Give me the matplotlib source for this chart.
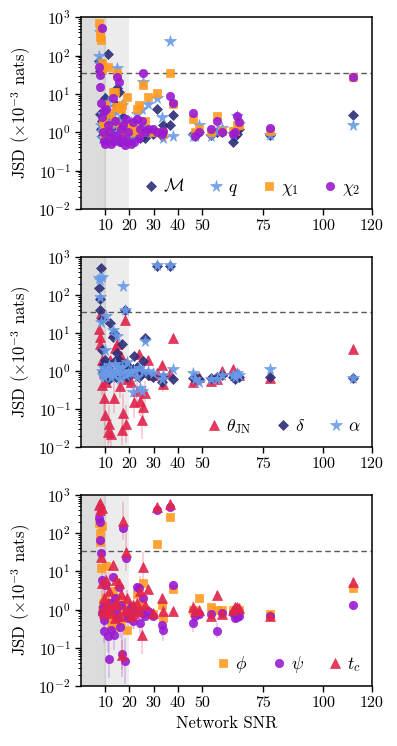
import numpy as np
import matplotlib
matplotlib.use("Agg")
import matplotlib.pyplot as plt

plt.rcParams['font.family'] = 'serif'
plt.rcParams['font.serif'] = ['cmr10']
plt.rcParams['mathtext.fontset'] = 'cm'
plt.rcParams['axes.formatter.use_mathtext'] = True
plt.rcParams['font.size'] = 11.5

snr = [7.5, 7.8, 8.0, 8.2, 8.5, 8.8, 9.0, 9.3, 9.6, 10.0,
       10.5, 11.0, 11.5, 12.0, 12.5, 13.0, 13.5, 14.0, 14.5, 15.0,
       15.5, 16.0, 16.5, 17.0, 17.5, 18.0, 18.5, 19.0, 19.5, 20.5,
       21.5, 22.0, 23.0, 24.0, 24.5, 25.0, 25.5, 26.5, 27.5, 29.5,
       31.5, 33.5, 34.0, 36.5, 38.0, 46.0, 47.0, 48.5, 53.5, 56.0,
       58.0, 62.5, 63.5, 64.5, 65.0, 78.0, 112.0]

# Panel 1
jsd_mc = [70, 40, 3.0, 1.2, 2.0, 0.8, 1.5, 0.9, 0.7, 7.8,
          1.0, 110, 2.5, 0.7, 1.5, 2.2, 0.9, 1.3, 5.0, 14,
          11, 0.6, 1.8, 0.8, 2.5, 1.0, 0.6, 1.3, 0.9, 1.5,
          0.7, 1.2, 0.9, 1.0, 0.7, 1.3, 0.8, 0.7, 1.0, 0.9,
          4.0, 0.8, 1.5, 1.5, 2.8, 0.9, 0.8, 1.0, 0.85, 1.0,
          1.0, 0.56, 0.8, 0.9, 1.2, 0.85, 2.8]
jsd_q = [100, 400, 60, 1.5, 1.0, 0.7, 3.0, 1.2, 0.9, 2.0,
         0.8, 6.0, 1.4, 0.6, 1.0, 3.0, 0.8, 1.5, 3.5, 47,
         2.0, 0.9, 1.2, 5.0, 1.5, 0.7, 1.0, 1.2, 0.6, 1.8,
         0.8, 1.0, 3.0, 1.3, 0.9, 4.0, 20, 1.0, 5.5, 1.0,
         8.0, 2.5, 0.7, 240, 0.8, 0.8, 0.8, 1.5, 0.8, 1.1,
         1.3, 0.9, 1.2, 2.6, 1.6, 0.85, 1.55]
jsd_chi1 = [700, 460, 300, 250, 63, 42, 2.0, 0.9, 1.5, 5.0,
            1.2, 50, 0.8, 3.0, 0.6, 11, 1.8, 11, 4.5, 35,
            4.5, 1.5, 4.0, 5.0, 0.9, 1.5, 1.0, 8.5, 1.2, 1.5,
            1.0, 1.3, 4.0, 5.0, 1.0, 1.0, 17, 2.0, 8.3, 1.0,
            10.5, 1.0, 0.9, 34, 5.5, 2.2, 1.0, 1.2, 1.0, 2.6,
            1.1, 1.1, 1.1, 1.5, 1.5, 1.05, 27.5]
jsd_chi2 = [50, 31, 15, 5.8, 520, 2.5, 1.0, 0.6, 3.5, 0.5,
            4.0, 1.5, 0.7, 1.0, 0.5, 8, 0.6, 2.0, 0.8, 28,
            20, 0.55, 1.2, 0.7, 1.5, 0.45, 2.2, 0.6, 1.0, 0.5,
            1.8, 0.55, 2.2, 0.7, 1.2, 2.0, 34, 1.0, 1.2, 1.2,
            1.0, 0.9, 1.1, 8.7, 5.8, 3.2, 0.8, 1.0, 1.2, 2.0,
            1.0, 0.9, 1.0, 2.6, 1.9, 1.3, 27.5]

# Panel 2
jsd_theta = [13, 8, 5, 34, 2.0, 0.44, 1.2, 0.2, 0.9, 0.07,
             0.5, 0.025, 0.04, 2.0, 0.022, 10, 0.2, 4.0, 0.9, 5,
             1.3, 0.4, 2.5, 0.028, 0.08, 22, 0.04, 0.6, 1.0, 0.5,
             0.9, 0.15, 0.3, 2.8, 0.16, 0.05, 0.11, 0.27, 2.0, 0.8,
             0.9, 1.4, 0.45, 0.9, 7.5, 0.5, 0.6, 0.7, 0.55, 0.6,
             1.0, 1.1, 0.8, 0.9, 0.8, 0.65, 3.8]
jsd_delta = [150, 40, 80, 500, 23, 3.5, 1.0, 0.8, 1.5, 2.0,
             0.7, 1.2, 0.6, 18, 1.0, 8, 10, 1.8, 0.7, 3.0,
             2.0, 0.9, 1.2, 5.0, 0.8, 40, 1.5, 0.7, 1.3, 0.9,
             1.1, 2.5, 1.3, 0.7, 1.0, 0.9, 1.8, 7.4, 0.8, 0.7,
             580, 0.5, 0.7, 580, 0.6, 0.65, 0.7, 0.6, 0.65, 0.7,
             0.8, 0.7, 0.6, 0.8, 0.7, 0.7, 0.65]
jsd_alpha = [280, 250, 90, 20, 300, 1.0, 0.8, 1.2, 0.7, 3.5,
             28, 0.9, 1.4, 1.0, 0.7, 12, 0.8, 1.5, 1.0, 8.5,
             1.2, 0.6, 0.9, 1.3, 175, 40, 0.8, 1.7, 0.9, 1.0,
             0.28, 1.0, 0.7, 1.2, 0.35, 0.3, 1.0, 6.0, 1.0, 0.9,
             600, 0.6, 0.8, 600, 1.1, 0.9, 0.6, 0.5, 0.6, 0.6,
             0.8, 0.8, 0.7, 0.9, 0.8, 1.1, 0.65]

# Panel 3
jsd_phi = [185, 100, 60, 12, 150, 1.0, 1.5, 0.7, 1.2, 2.0,
           14, 0.8, 1.0, 0.6, 0.4, 3, 1.2, 0.35, 2.0, 0.8,
           1.5, 0.9, 0.5, 1.1, 1.8, 0.7, 1.3, 0.29, 1.0, 0.8,
           1.2, 1.0, 2.5, 1.3, 0.9, 1.5, 5, 1.0, 0.8, 0.75,
           52, 1.3, 0.6, 260, 3.5, 1.0, 0.8, 2.0, 1.2, 1.0,
           1.0, 1.0, 0.9, 0.8, 1.0, 0.75, 3.7]
jsd_psi = [250, 200, 65, 30, 6, 0.8, 1.2, 0.55, 0.27, 4.5,
           0.9, 0.2, 0.052, 1.5, 0.3, 7, 0.22, 2.0, 1.0, 0.6,
           4.0, 0.35, 1.3, 0.07, 140, 0.045, 22, 0.8, 0.6, 1.2,
           0.5, 0.9, 4.0, 3.7, 0.45, 0.8, 2.0, 0.7, 0.9, 0.7,
           400, 0.4, 0.3, 480, 4.5, 0.45, 0.7, 0.75, 0.75, 0.28,
           0.8, 0.8, 0.6, 0.65, 0.7, 0.7, 1.3]
jsd_tc = [550, 400, 600, 24, 450, 5, 1.0, 2.0, 0.8, 1.2,
          6, 1.5, 3.0, 1.0, 0.8, 15, 1.3, 0.6, 6, 1.5,
          5, 0.7, 2.5, 0.065, 210, 1.0, 32, 2.0, 0.9, 0.7,
          1.3, 0.8, 1.5, 0.9, 3.0, 0.22, 13, 1.3, 3.5, 0.8,
          480, 2.0, 0.9, 580, 0.9, 1.2, 0.9, 0.95, 0.7, 2.4,
          0.75, 1.0, 1.2, 1.2, 1.1, 0.7, 5.2]

# uncertainties (dex)
err_dex = [0.1, 0.1, 0.1, 0.1, 0.1, 0.1, 0.12, 0.12, 0.12, 0.12,
           0.12, 0.12, 0.12, 0.12, 0.12, 0.1, 0.1, 0.1, 0.1, 0.1,
           0.1, 0.1, 0.1, 0.1, 0.1, 0.1, 0.1, 0.1, 0.1, 0.08,
           0.08, 0.08, 0.08, 0.08, 0.08, 0.08, 0.08, 0.08, 0.08, 0.08,
           0.05, 0.08, 0.08, 0.05, 0.08, 0.08, 0.08, 0.08, 0.08, 0.08,
           0.08, 0.08, 0.08, 0.08, 0.08, 0.08, 0.08]
err_theta = [0.1, 0.1, 0.1, 0.1, 0.1, 0.3, 0.1, 0.4, 0.1, 0.5,
             0.2, 0.4, 0.5, 0.1, 0.4, 0.1, 0.4, 0.1, 0.1, 0.1,
             0.1, 0.3, 0.1, 0.4, 0.5, 0.1, 0.5, 0.2, 0.1, 0.2,
             0.1, 0.4, 0.3, 0.1, 0.4, 0.5, 0.4, 0.3, 0.1, 0.1,
             0.1, 0.1, 0.2, 0.1, 0.1, 0.15, 0.1, 0.1, 0.1, 0.1,
             0.1, 0.1, 0.1, 0.1, 0.1, 0.1, 0.1]
err_psi = [0.1, 0.1, 0.1, 0.1, 0.1, 0.1, 0.1, 0.2, 0.3, 0.1,
           0.1, 0.4, 0.5, 0.1, 0.3, 0.1, 0.4, 0.1, 0.1, 0.2,
           0.1, 0.3, 0.1, 0.6, 0.1, 0.6, 0.1, 0.2, 0.2, 0.1,
           0.2, 0.1, 0.1, 0.1, 0.3, 0.1, 0.1, 0.1, 0.1, 0.1,
           0.1, 0.3, 0.3, 0.1, 0.1, 0.25, 0.1, 0.1, 0.1, 0.2,
           0.1, 0.1, 0.1, 0.1, 0.1, 0.1, 0.1]

xticks = [10, 20, 30, 40, 50, 75, 100, 120]
threshold = 34.7

c_navy = '#2d2f78'
c_blue = '#6a9be8'
c_orange = '#ff9a20'
c_purple = '#9a1bd2'
c_red = '#e1244c'

panels = [
    [(jsd_mc, err_dex, 'D', c_navy, 5.2, r'$\mathcal{M}$'),
     (jsd_q, err_dex, '*', c_blue, 8.5, r'$q$'),
     (jsd_chi1, err_dex, 's', c_orange, 5.6, r'$\chi_1$'),
     (jsd_chi2, err_dex, 'o', c_purple, 6.0, r'$\chi_2$')],
    [(jsd_theta, err_theta, '^', c_red, 6.6, r'$\theta_{\rm JN}$'),
     (jsd_delta, err_dex, 'D', c_navy, 5.2, r'$\delta$'),
     (jsd_alpha, err_dex, '*', c_blue, 8.5, r'$\alpha$')],
    [(jsd_phi, err_dex, 's', c_orange, 5.6, r'$\phi$'),
     (jsd_psi, err_psi, 'o', c_purple, 6.0, r'$\psi$'),
     (jsd_tc, err_theta, '^', c_red, 6.6, r'$t_c$')],
]

fig = plt.figure(figsize=(3.97, 7.46), dpi=100)
boxes = [(0.977, 0.720), (0.6555, 0.4008), (0.3365, 0.0804)]
left, right = 0.204, 0.937
x = np.array(snr)
for (top, bot), series in zip(boxes, panels):
    ax = fig.add_axes([left, bot, right - left, top - bot])
    ax.axvspan(0, 20, color='#ececec', zorder=0, lw=0)
    ax.axvspan(0, 9.6, color='#dcdcdc', zorder=0.1, lw=0)
    ax.axvline(10.0, color='#d2d2d2', lw=1.6, zorder=0.2)
    ax.axhline(threshold, color='0.35', ls=(0, (4, 2.5)), lw=1.0, zorder=1)
    for vals, err, mk, col, ms, lab in series:
        y = np.array(vals, dtype=float)
        e = np.array(err, dtype=float)
        lo = y - y * 10 ** (-e)
        hi = y * 10 ** e - y
        ax.errorbar(x, y, yerr=[lo, hi], fmt='none', ecolor=col, alpha=0.25,
                    lw=1.2, zorder=2)
        ax.plot(x, y, ls='none', marker=mk, color=col, ms=ms, mec=col,
                mew=0.5, alpha=0.9, zorder=3, label=lab)
    ax.set_yscale('log')
    ax.set_ylim(1e-2, 1e3)
    ax.set_xlim(0, 120)
    ax.set_xticks(xticks)
    ax.set_xticklabels([str(t) for t in xticks])
    ax.set_ylabel(r'JSD ($\times 10^{-3}$ nats)', fontsize=12)
    ax.tick_params(axis='both', which='both', direction='out', top=False, right=False)
    ax.tick_params(axis='both', which='major', length=4, width=1.0)
    ax.tick_params(axis='y', which='minor', length=2.2, width=0.7)
    for s in ax.spines.values():
        s.set_linewidth(1.1)
    leg = ax.legend(loc='lower right', ncol=len(series), frameon=False,
                    handletextpad=0.2, columnspacing=1.3, fontsize=12.5,
                    borderaxespad=0.25, handlelength=1.0)
    last = ax
last.set_xlabel('Network SNR', fontsize=12)
fig.savefig('out.png', dpi=100)
